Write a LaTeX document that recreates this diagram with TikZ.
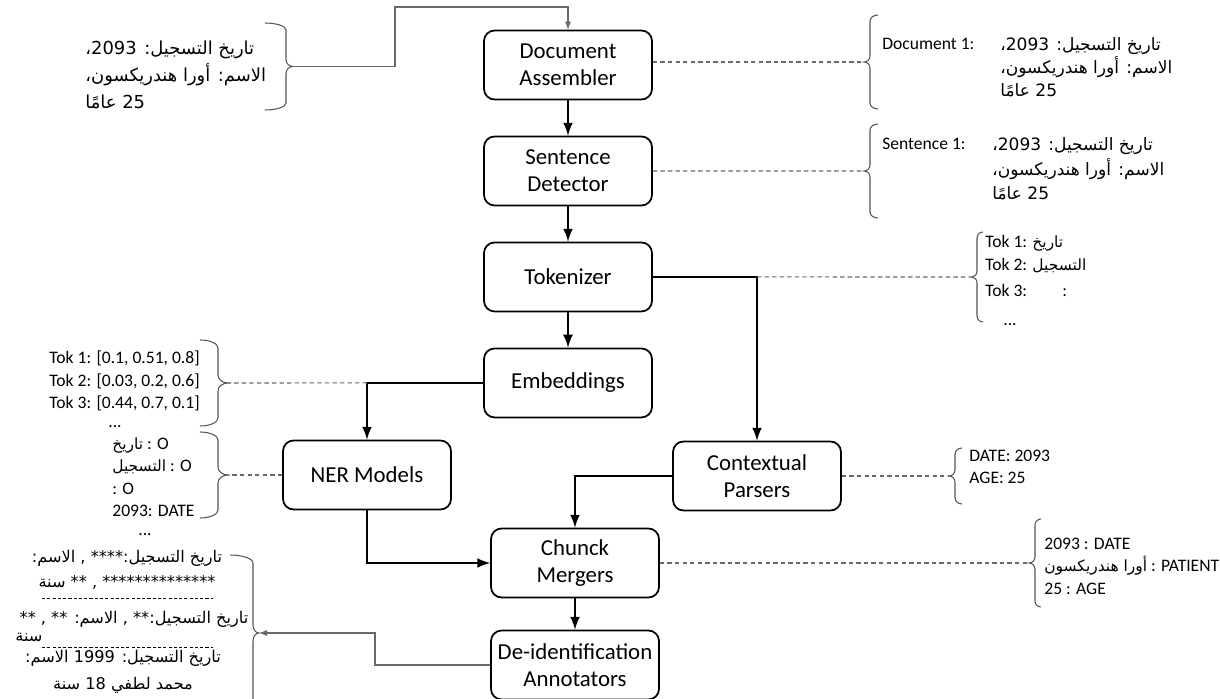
\documentclass[tikz,border=0pt]{standalone}
\usepackage{fontspec}
\setmainfont{Carlito}
\newfontfamily\arabicfont[Script=Arabic]{DejaVu Sans}
\newfontfamily\arabicsmall[Script=Arabic,Scale=0.88]{DejaVu Sans}
\TeXXeTstate=1
\usetikzlibrary{arrows,positioning}
\definecolor{linegray}{RGB}{105,105,105}
\definecolor{bracegray}{RGB}{85,85,85}
\newcommand{\artxt}[1]{{\arabicfont\beginR #1\endR}}
\newcommand{\arword}[1]{{\arabicsmall\beginR #1\endR}}
\newcommand{\bracepath}[6]{% end x, top y, bottom y, hook, tip, radius
  \draw[curly] (#1,#2) .. controls ({#1+0.55*(#4)},#2) and ({#1+(#4)},{#2+0.45*#6}) .. ({#1+(#4)},{#2+#6})
    -- ({#1+(#4)},{(#2+#3)/2-#6})
    .. controls ({#1+(#4)},{(#2+#3)/2-0.45*#6}) and ({#1+(#4)+0.45*(#5)},{(#2+#3)/2}) .. ({#1+(#4)+(#5)},{(#2+#3)/2})
    .. controls ({#1+(#4)+0.45*(#5)},{(#2+#3)/2}) and ({#1+(#4)},{(#2+#3)/2+0.45*#6}) .. ({#1+(#4)},{(#2+#3)/2+#6})
    -- ({#1+(#4)},{#3-#6})
    .. controls ({#1+(#4)},{#3-0.45*#6}) and ({#1+0.55*(#4)},#3) .. (#1,#3);}

\begin{document}
\begin{tikzpicture}[x=0.02cm,y=-0.02cm,node distance=2.12cm,on grid,
    stage/.style={draw,line width=1pt,rounded corners=6pt,minimum width=3.36cm,
        minimum height=1.38cm,inner sep=0pt,align=center,font=\fontsize{13}{15.5}\selectfont},
    flow/.style={-latex,line width=1.5pt},
    thin/.style={-latex,draw=linegray,line width=0.6pt},
    link/.style={draw=linegray,line width=0.6pt,dash pattern=on 2.5pt off 1.8pt},
    curly/.style={draw=bracegray,line width=0.6pt},
    note/.style={inner sep=0pt,align=left,font=\fontsize{10}{12.8}\selectfont},
    arnote/.style={inner sep=0pt,align=left},
    sep/.style={line width=0.5pt,dash pattern=on 1.8pt off 1.2pt}]
\useasboundingbox (0,0) rectangle (1220,699);

\node[stage]            (doc_asm) at (568,65) {Document\\Assembler};
\node[stage]            (sent_det) [below of =doc_asm] {Sentence\\Detector};
\node[stage]            (tok) [below of =sent_det] {Tokenizer};
\node[stage]            (emb) [below of =tok] {Embeddings};
\node[stage]            (ner) at (367,475) {NER Models};
\node[stage]            (ctx_par) at (757,476) {Contextual\\Parsers};
\node[stage]            (chunk_mrg) at (575,563) {Chunck\\Mergers};
\node[stage]            (deid) at (575,665) {De-identification\\Annotators};

\bracepath{265}{23}{110}{21}{7}{7}
\bracepath{878}{15}{109}{-8}{-6}{6}
\bracepath{878}{124}{218}{-8}{-6}{6}
\bracepath{983}{232}{322}{-6}{-5}{6}
\bracepath{200}{340}{426}{18}{10}{8}
\bracepath{200}{432}{518}{18}{10}{8}
\bracepath{962}{448}{504}{-7}{-6}{6}
\bracepath{1041}{519}{607}{-6}{-6}{6}
\bracepath{230}{555}{711}{23}{6}{8}

\coordinate (in_br) at (293,66.5);
\coordinate (top_turn) at (395,7);
\coordinate (doc_br) at (864,62);
\coordinate (sent_br) at (864,171);
\coordinate (tok_br) at (972,277);
\coordinate (emb_br) at (228,383);
\coordinate (ner_br) at (228,475);
\coordinate (ctx_br) at (949,476);
\coordinate (chunk_br) at (1029,563);
\coordinate (out_turn) at (375,633);
\coordinate (out_br) at (259,633);
\coordinate (tok_jn) at (tok.east -| ctx_par.north);
\coordinate (emb_jn) at (emb.west -| ner.north);

\draw[thin] (in_br) -| (top_turn) -| (doc_asm.north);
\draw[flow] (doc_asm) -- (sent_det);
\draw[flow] (sent_det) -- (tok);
\draw[flow] (tok) -- (emb);
\draw[flow] (tok.east) -| (ctx_par.north);
\draw[flow] (emb.west) -| (ner.north);
\draw[flow] (ner.south) |- (chunk_mrg.west);
\draw[flow] (ctx_par.west) -| (chunk_mrg.north);
\draw[flow] (chunk_mrg) -- (deid);
\draw[thin] (deid.west) -| (out_turn) -- (out_br);

\draw[link] (doc_asm.east |- doc_br) -- (doc_br);
\draw[link] (sent_det.east) -- (sent_br);
\draw[link] (tok_jn) -- (tok_br);
\draw[link] (emb_jn) -- (emb_br);
\draw[link] (ner.west) -- (ner_br);
\draw[link] (ctx_par.east) -- (ctx_br);
\draw[link] (chunk_mrg.east) -- (chunk_br);

\node[arnote, anchor=west, font=\fontsize{10.2}{15.3}\selectfont] (in_txt) at (85,75)
    {\artxt{تاريخ التسجيل: 2093\kern0pt،}\\\artxt{الاسم: أورا هندريكسون،}\\\artxt{25 عامًا}};
\node[note, anchor=west] (doc_lbl) at (882,44) {Document 1:};
\node[arnote, anchor=west, font=\fontsize{9.7}{13}\selectfont] (doc_txt) at (1000,67)
    {\artxt{تاريخ التسجيل: 2093\kern0pt،}\\\artxt{الاسم: أورا هندريكسون،}\\\artxt{25 عامًا}};
\node[note, anchor=west] (sent_lbl) at (882,144) {Sentence 1:};
\node[arnote, anchor=west, font=\fontsize{9.7}{14}\selectfont] (sent_txt) at (992,169)
    {\artxt{تاريخ التسجيل: 2093\kern0pt،}\\\artxt{الاسم: أورا هندريكسون،}\\\artxt{25 عامًا}};
\node[note, anchor=west] (tok_txt) at (985,266)
    {Tok 1: \arword{تاريخ}\\Tok 2: \arword{التسجيل}\\[2pt]Tok 3:\hspace{2em}:};
\node[note] (tok_more) at (1010,325) {...};
\node[note, anchor=east, align=right] (emb_txt) at (200,381)
    {Tok 1: [0.1, 0.51, 0.8]\\Tok 2: [0.03, 0.2, 0.6]\\Tok 3: [0.44, 0.7, 0.1]};
\node[note] (emb_more) at (115,427) {...};
\node[note, anchor=west] (ner_txt) at (112,477)
    {\arword{تاريخ} : O\\\arword{التسجيل} : O\\: O\\2093: DATE};
\node[note] (ner_more) at (145,535) {...};
\node[note, anchor=west] (ctx_txt) at (969,467) {DATE: 2093\\AGE: 25};
\node[note, anchor=west] (chunk_txt) at (1044,566)
    {2093 : DATE\\\arword{أورا هندريكسون} : PATIENT\\25 : AGE};

\node[arnote, align=center, font=\fontsize{9.2}{14}\selectfont] (out_a) at (127,570)
    {\artxt{تاريخ التسجيل:**** , الاسم:}\\\artxt{************** , ** سنة}};
\node[arnote, font=\fontsize{9.2}{14}\selectfont] (out_b) at (134,619)
    {\artxt{تاريخ التسجيل:** , الاسم: ** , **}};
\node[arnote, anchor=west, font=\fontsize{9.2}{14}\selectfont] (out_c) at (15,637) {\artxt{سنة}};
\node[arnote, align=center, font=\fontsize{9.2}{15}\selectfont] (out_d) at (123,672)
    {\artxt{تاريخ التسجيل: 1999 الاسم:}\\\artxt{محمد لطفي 18 سنة}};
\draw[sep] (42,598) -- (213,598);
\draw[sep] (42,647) -- (213,647);
\end{tikzpicture}
\end{document}
